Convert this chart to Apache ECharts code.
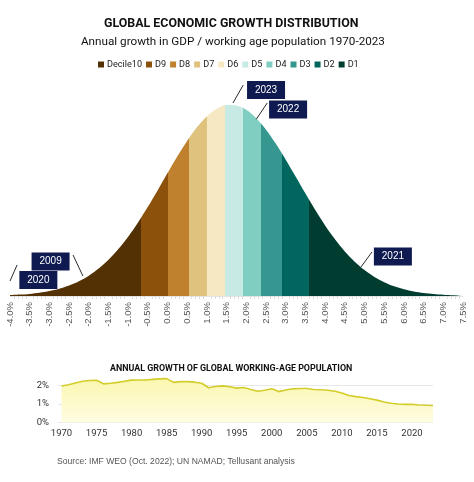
<!DOCTYPE html>
<html><head><meta charset="utf-8">
<script src="https://cdn.jsdelivr.net/npm/echarts@6/dist/echarts.min.js"></script>
<style>html,body{margin:0;padding:0;background:#fff}#c{width:474px;height:482px}</style>
</head><body><div id="c"></div>
<script>
// ---- Distribution of annual growth (GDP / working-age population), % ----
const growthX = [-4.0,-3.75,-3.5,-3.25,-3.0,-2.75,-2.5,-2.25,-2.0,-1.75,-1.5,-1.25,-1.0,-0.75,-0.5,-0.25,
  0.0,0.25,0.5,0.75,1.0,1.25,1.5,1.75,2.0,2.25,2.5,2.75,3.0,3.25,3.5,3.75,4.0,4.25,4.5,4.75,5.0,5.25,
  5.5,5.75,6.0,6.25,6.5,6.75,7.0,7.25,7.5];
const density = [0.10,0.17,0.26,0.40,0.60,0.89,1.28,1.81,2.50,3.37,4.46,5.77,7.29,9.04,10.96,13.0,
  15.09,17.15,19.06,20.74,22.08,23.0,23.46,23.41,22.86,21.84,20.43,18.69,16.74,14.67,12.58,10.56,8.67,6.97,
  5.48,4.22,3.18,2.34,1.69,1.19,0.83,0.56,0.37,0.24,0.15,0.09,0.06];
const decileNames = ['Decile10','D9','D8','D7','D6','D5','D4','D3','D2','D1'];
const decileBounds = [-0.67,0.01,0.54,1.0,1.46,1.92,2.37,2.9,3.59];
const decileColors = ['#543005','#8c510a','#bf812d','#dfc27d','#f6e8c3','#c7eae5','#80cdc1','#35978f','#01665e','#003c30'];

// ---- Annotated years (growth value each pointer targets) ----
const annotYears = ['2023','2022','2009','2020','2021'];
const annotGrowth = [1.66,2.25,-2.15,-4.0,4.91];

// ---- Working-age population growth, % ----
const popYears = [1970,1971,1972,1973,1974,1975,1976,1977,1978,1979,1980,1981,1982,1983,1984,1985,1986,1987,1988,1989,
  1990,1991,1992,1993,1994,1995,1996,1997,1998,1999,2000,2001,2002,2003,2004,2005,2006,2007,2008,2009,
  2010,2011,2012,2013,2014,2015,2016,2017,2018,2019,2020,2021,2022,2023];
const popGrowth = [1.97,2.04,2.14,2.23,2.27,2.28,2.09,2.12,2.17,2.23,2.29,2.30,2.30,2.33,2.36,2.37,2.17,2.21,2.21,2.18,
  2.12,1.88,1.95,1.98,1.93,1.86,1.89,1.78,1.69,1.74,1.82,1.67,1.76,1.82,1.84,1.84,1.78,1.77,1.74,1.69,
  1.59,1.46,1.40,1.35,1.28,1.21,1.11,1.04,1.00,0.98,0.98,0.95,0.93,0.92];
const popTickYears = [1970,1975,1980,1985,1990,1995,2000,2005,2010,2015,2020];

// ---- annotation layout (data coordinates) ----
const annotLayout = {
  box:  [[2.50,25.3],[3.06,22.9],[-2.97,4.24],[-3.28,1.97],[5.72,4.85]],
  from: [[1.92,25.9],[2.53,23.7],[-2.40,5.04],[-3.82,3.81],[5.19,5.41]],
  to:   [[1.66,23.7],[2.25,21.7],[-2.15,2.46],[-4.0,1.84],[4.91,3.56]]
};

const bellData = growthX.map((x,i)=>[x,density[i]]);
const popData = popYears.map((y,i)=>[y,popGrowth[i]]);
const pieces = decileColors.map((c,i)=>{
  const p = {color:c};
  if (i>0) p.gte = decileBounds[i-1];
  if (i<decileBounds.length) p.lt = decileBounds[i];
  return p;
});

const chart = echarts.init(document.getElementById('c'));
chart.setOption({
  animation:false,
  backgroundColor:'#fff',
  title:[
    {text:'GLOBAL ECONOMIC GROWTH DISTRIBUTION',left:104,top:18,padding:0,
     textStyle:{fontFamily:'Roboto',fontWeight:'bold',fontSize:12.4,color:'#111'}},
    {text:'Annual growth in GDP / working age population 1970-2023',left:81,top:36.5,padding:0,
     textStyle:{fontFamily:'Roboto',fontWeight:'normal',fontSize:11.7,color:'#111'}},
    {text:'ANNUAL GROWTH OF GLOBAL WORKING-AGE POPULATION',left:110,top:364,padding:0,
     textStyle:{fontFamily:'Roboto',fontWeight:'bold',fontSize:8.9,color:'#111'}},
    {text:'Source: IMF WEO (Oct. 2022); UN NAMAD; Tellusant analysis',left:57,top:457.5,padding:0,
     textStyle:{fontFamily:'Liberation Sans',fontWeight:'normal',fontSize:8.6,color:'#555'}}
  ],
  legend:{
    data:decileNames,top:60,left:98,padding:0,icon:'rect',itemWidth:6,itemHeight:6,itemGap:4,
    textStyle:{fontFamily:'Roboto',fontSize:9.1,color:'#222',padding:[0,0,0,-2]},selectedMode:false
  },
  visualMap:{type:'piecewise',show:false,dimension:0,seriesIndex:0,pieces:pieces},
  grid:[
    {left:10,right:11,top:68,bottom:186},
    {left:58,right:41,top:376.25,bottom:59.5}
  ],
  xAxis:[
    {type:'value',gridIndex:0,min:-4,max:7.5,interval:0.5,
     axisLine:{show:true,lineStyle:{color:'#e4e4e4',width:1}},
     axisTick:{show:false},
     minorTick:{show:true,splitNumber:5,length:3,lineStyle:{color:'#ddd'}},
     splitLine:{show:false},
     axisLabel:{rotate:90,margin:6,fontFamily:'Liberation Sans',fontSize:9.5,color:'#555',
       formatter:v=>v.toFixed(1)+'%'}},
    {type:'value',gridIndex:1,min:1969.5,max:2023,
     axisLine:{show:false},axisTick:{show:false},splitLine:{show:false},
     axisLabel:{customValues:popTickYears,margin:6,fontFamily:'Roboto',fontSize:9.5,color:'#333',
       formatter:v=>String(v)}}
  ],
  yAxis:[
    {type:'value',gridIndex:0,min:0,max:28,show:false},
    {type:'value',gridIndex:1,min:0,max:2.5,interval:1,
     axisLine:{show:false},axisTick:{show:false},
     splitLine:{show:true,showMaxLine:false,lineStyle:{color:'#e8e8e8'}},
     axisLabel:{margin:9,fontFamily:'Roboto',fontSize:9.5,color:'#333',
       formatter:v=>Number.isInteger(v)?v+'%':''}}
  ],
  series:[
    {type:'line',name:'distribution',xAxisIndex:0,yAxisIndex:0,data:bellData,smooth:0.3,symbol:'none',
     silent:true,lineStyle:{width:0},areaStyle:{opacity:1},z:2,
     markLine:{silent:true,symbol:['none','none'],animation:false,
       lineStyle:{color:'#2b2b2b',width:1,type:'solid'},label:{show:false},emphasis:{disabled:true},
       data:annotYears.map((y,i)=>[{coord:annotLayout.from[i]},{coord:annotLayout.to[i]}])},
     markPoint:{silent:true,symbol:'rect',symbolSize:[38,18],animation:false,
       itemStyle:{color:'#0e1a50'},
       label:{show:true,position:'inside',color:'#fff',fontFamily:'Liberation Sans',fontSize:10,formatter:'{b}'},
       data:annotYears.map((y,i)=>({name:y,coord:annotLayout.box[i]}))}
    },
    ...decileNames.map((n,i)=>({type:'line',name:n,xAxisIndex:0,yAxisIndex:0,data:[],
       itemStyle:{color:decileColors[i]},lineStyle:{color:decileColors[i]}})),
    {type:'line',name:'pop',xAxisIndex:1,yAxisIndex:1,data:popData,symbol:'none',silent:true,
     lineStyle:{color:'#d3cd2b',width:1.6},
     areaStyle:{opacity:1,color:new echarts.graphic.LinearGradient(0,0,0,1,[
       {offset:0,color:'#fbf7b0'},{offset:1,color:'#fefce2'}])}}
  ]
});
</script></body></html>
